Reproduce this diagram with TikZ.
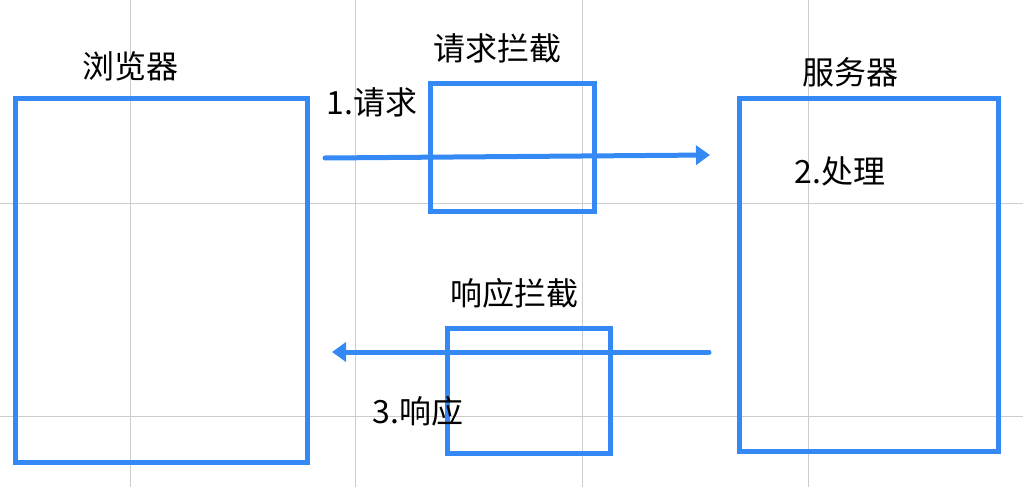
\documentclass[tikz,border=0pt]{standalone}
\usepackage{fontspec}
\newfontfamily\cjk{Noto Sans CJK SC}
\usetikzlibrary{arrows.meta}
\definecolor{boxblue}{RGB}{52,137,245}
\definecolor{gridgray}{RGB}{205,205,205}
\tikzset{
  box/.style={draw=boxblue, line width=5pt, fill=none},
  lbl/.style={font=\cjk\fontsize{32}{34}\selectfont, text=black, inner sep=0pt},
  flow/.style={draw=boxblue, line width=5pt, line cap=round, -{Triangle[length=14pt,width=19pt]}},
  gridline/.style={draw=gridgray, line width=0.8pt}
}
\begin{document}
\begin{tikzpicture}[x=1pt,y=-1pt]
\useasboundingbox (0,0) rectangle (1023,487);
% grid
\foreach \gx in {130,355,582,808} \draw[gridline] (\gx,0) -- (\gx,487);
\foreach \gy in {203,416} \draw[gridline] (0,\gy) -- (1023,\gy);
% boxes
\draw[box] (15,98) rectangle (307,462);
\draw[box] (430,84) rectangle (594,211);
\draw[box] (739,98) rectangle (998,451);
\draw[box] (447,328) rectangle (610,453);
% labels
\node[lbl] (browser) at (130,66) {浏览器};
\node[lbl] (reqint) at (497,48) {请求拦截};
\node[lbl] (server) at (850,72) {服务器};
\node[lbl] (req) at (372,102) {1.请求};
\node[lbl] (proc) at (840,171) {2.处理};
\node[lbl] (respint) at (514,293) {响应拦截};
\node[lbl] (resp) at (418,411) {3.响应};
% arrows
\coordinate (a1s) at (325,158);
\coordinate (a1e) at (710,155);
\coordinate (a2s) at (709,352);
\coordinate (a2e) at (332,352);
\draw[flow] (a1s) -- (a1e);
\draw[flow] (a2s) -- (a2e);
\end{tikzpicture}
\end{document}
